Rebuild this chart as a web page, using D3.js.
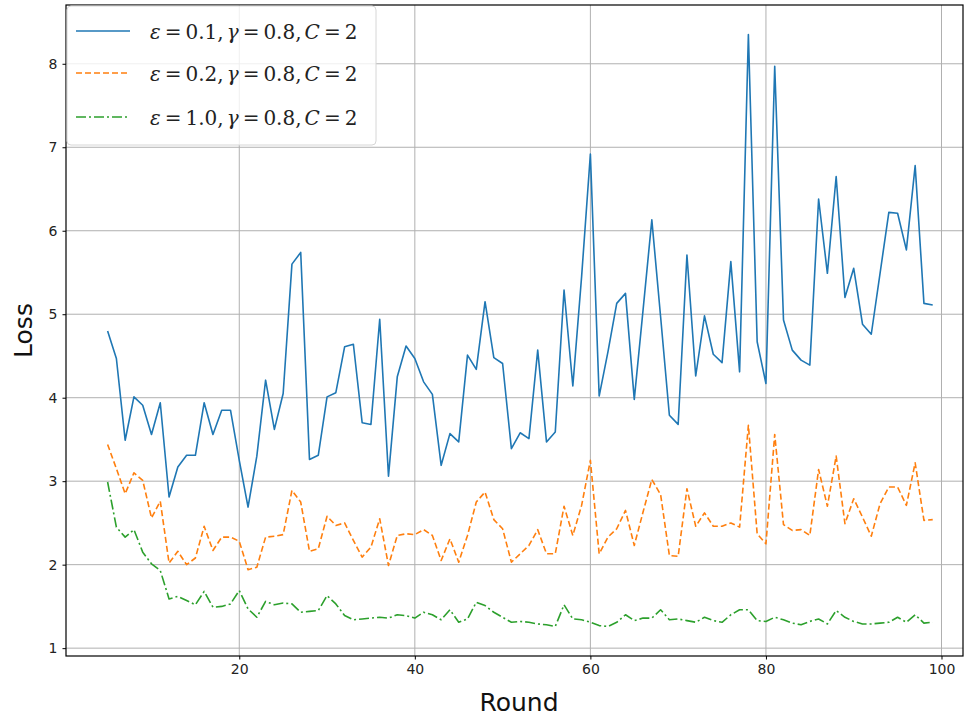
<!DOCTYPE html>
<html>
<head>
<meta charset="utf-8">
<script src="https://cdn.jsdelivr.net/npm/d3@7"></script>
<style>
  html, body { margin: 0; padding: 0; background: #fff; }
  svg { display: block; }
</style>
</head>
<body>
<div id="chart"></div>
<script>
// ---- data ----
const rounds = d3.range(5, 100); // 5..99
const lossEps01 = [4.80,4.47,3.49,4.01,3.91,3.56,3.94,2.81,3.17,3.31,3.31,3.94,3.56,3.85,3.85,3.25,2.69,3.30,4.21,3.62,
  4.05,5.60,5.74,3.26,3.31,4.01,4.06,4.61,4.64,3.70,3.68,4.94,3.06,4.25,4.62,4.47,4.19,4.04,3.19,3.57,
  3.47,4.51,4.34,5.15,4.48,4.41,3.39,3.58,3.51,4.57,3.47,3.59,5.29,4.14,5.45,6.92,4.02,4.55,5.13,5.25,
  3.98,5.05,6.13,4.97,3.79,3.68,5.71,4.26,4.98,4.52,4.42,5.63,4.31,8.35,4.67,4.17,7.97,4.93,4.57,4.45,
  4.39,6.38,5.49,6.65,5.20,5.55,4.88,4.76,5.49,6.22,6.21,5.77,6.78,5.13,5.11];
const lossEps02 = [3.44,3.15,2.85,3.10,3.01,2.56,2.76,2.02,2.16,2.00,2.08,2.46,2.17,2.33,2.33,2.28,1.94,1.97,2.33,2.34,
  2.36,2.89,2.75,2.16,2.19,2.58,2.47,2.50,2.29,2.09,2.21,2.55,1.99,2.35,2.37,2.36,2.42,2.35,2.05,2.31,
  2.03,2.35,2.75,2.87,2.54,2.43,2.03,2.13,2.23,2.42,2.13,2.13,2.70,2.35,2.71,3.25,2.13,2.33,2.43,2.65,
  2.23,2.63,3.02,2.84,2.11,2.10,2.91,2.46,2.62,2.46,2.46,2.50,2.45,3.67,2.37,2.25,3.56,2.48,2.41,2.42,
  2.35,3.14,2.70,3.30,2.49,2.79,2.57,2.34,2.73,2.93,2.93,2.71,3.22,2.53,2.54];
const lossEps10 = [2.99,2.45,2.33,2.42,2.15,2.01,1.93,1.59,1.62,1.57,1.52,1.68,1.49,1.50,1.53,1.69,1.47,1.37,1.56,1.52,
  1.54,1.53,1.43,1.44,1.45,1.63,1.53,1.39,1.34,1.35,1.36,1.37,1.36,1.40,1.39,1.36,1.43,1.40,1.34,1.46,
  1.31,1.35,1.55,1.51,1.43,1.37,1.31,1.32,1.31,1.29,1.28,1.26,1.52,1.35,1.34,1.31,1.27,1.26,1.31,1.40,
  1.33,1.36,1.36,1.46,1.34,1.35,1.33,1.31,1.37,1.33,1.31,1.40,1.46,1.46,1.33,1.32,1.37,1.34,1.30,1.28,
  1.32,1.35,1.29,1.45,1.37,1.32,1.29,1.29,1.30,1.31,1.37,1.31,1.40,1.30,1.31];
const seriesEps = ["0.1", "0.2", "1.0"];
const seriesGamma = "0.8";
const seriesC = "2";
const xTicks = [20, 40, 60, 80, 100];
const yTicks = [1, 2, 3, 4, 5, 6, 7, 8];
const xLabel = "Round";
const yLabel = "Loss";

(function () {
// ---- styles ----
const colors = ["#1f77b4", "#ff7f0e", "#2ca02c"];
const dashes = [null, "6,3", "10,3,2,3"];
const allSeries = [lossEps01, lossEps02, lossEps10];

const W = 964, H = 717;
const mLeft = 66, mRight = 963, mTop = 5, mBottom = 656;

const svg = d3.select("#chart").append("svg").attr("width", W).attr("height", H);

const x = d3.scaleLinear().domain([0.26, 102.45]).range([mLeft, mRight]);
const y = d3.scaleLinear().domain([0.906, 8.704]).range([mBottom, mTop]);

// grid
const g = svg.append("g");
g.selectAll(".vg").data(xTicks).enter().append("line")
  .attr("x1", d => x(d)).attr("x2", d => x(d)).attr("y1", mTop).attr("y2", mBottom)
  .attr("stroke", "#b0b0b0").attr("stroke-width", 1);
g.selectAll(".hg").data(yTicks).enter().append("line")
  .attr("x1", mLeft).attr("x2", mRight).attr("y1", d => y(d)).attr("y2", d => y(d))
  .attr("stroke", "#b0b0b0").attr("stroke-width", 1);

// lines
const line = d3.line().x((d, i) => x(rounds[i])).y(d => y(d));
allSeries.forEach((s, k) => {
  svg.append("path").datum(s).attr("d", line)
    .attr("fill", "none").attr("stroke", colors[k]).attr("stroke-width", 1.6)
    .attr("stroke-linejoin", "round")
    .attr("stroke-dasharray", dashes[k]);
});

// axes
const xAxis = d3.axisBottom(x).tickValues(xTicks).tickSize(3.5).tickPadding(5).tickFormat(d3.format("d"));
const yAxis = d3.axisLeft(y).tickValues(yTicks).tickSize(3.5).tickPadding(5).tickFormat(d3.format("d"));
const gx = svg.append("g").attr("transform", `translate(0,${mBottom})`).call(xAxis);
const gy = svg.append("g").attr("transform", `translate(${mLeft},0)`).call(yAxis);
[gx, gy].forEach(a => {
  a.select(".domain").remove();
  a.selectAll(".tick line").attr("stroke", "#000").attr("stroke-width", 1);
  a.selectAll(".tick text").attr("fill", "#222").style("font-family", "DejaVu Sans").style("font-size", "14px");
});
// spines
svg.append("rect").attr("x", mLeft).attr("y", mTop).attr("width", mRight - mLeft).attr("height", mBottom - mTop)
  .attr("fill", "none").attr("stroke", "#000").attr("stroke-width", 1.2);

// axis labels
svg.append("text").attr("x", 519).attr("y", 711).attr("text-anchor", "middle")
  .style("font-family", "DejaVu Sans").style("font-size", "25px").attr("fill", "#111").text(xLabel);
svg.append("text").attr("transform", `translate(32,${(mTop + mBottom) / 2}) rotate(-90)`).attr("text-anchor", "middle")
  .style("font-family", "DejaVu Sans").style("font-size", "25px").attr("fill", "#111").text(yLabel);

// legend
const lg = svg.append("g");
lg.append("rect").attr("x", 67).attr("y", 6).attr("width", 309).attr("height", 139).attr("rx", 4)
  .attr("fill", "#fff").attr("fill-opacity", 0.8).attr("stroke", "#d6d6d6").attr("stroke-width", 1);
const rowY = [31, 73, 117];
seriesEps.forEach((e, k) => {
  lg.append("line").attr("x1", 76).attr("x2", 130).attr("y1", rowY[k]).attr("y2", rowY[k])
    .attr("stroke", colors[k]).attr("stroke-width", 1.6).attr("stroke-dasharray", dashes[k]);
  const t = lg.append("text").attr("x", 150).attr("y", rowY[k] + 8)
    .style("font-family", "DejaVu Serif").style("font-size", "20px").attr("fill", "#222");
  const parts = [
    ["ε", true, 0], ["=", false, 4], [e, false, 4], [",", false, 0],
    ["γ", true, 3], ["=", false, 4], [seriesGamma, false, 4], [",", false, 0],
    ["C", true, 3], ["=", false, 4], [seriesC, false, 4]
  ];
  parts.forEach(([txt, it, dx]) => {
    t.append("tspan").attr("dx", dx).style("font-style", it ? "italic" : "normal").text(txt);
  });
});
})();
</script>
</body>
</html>
